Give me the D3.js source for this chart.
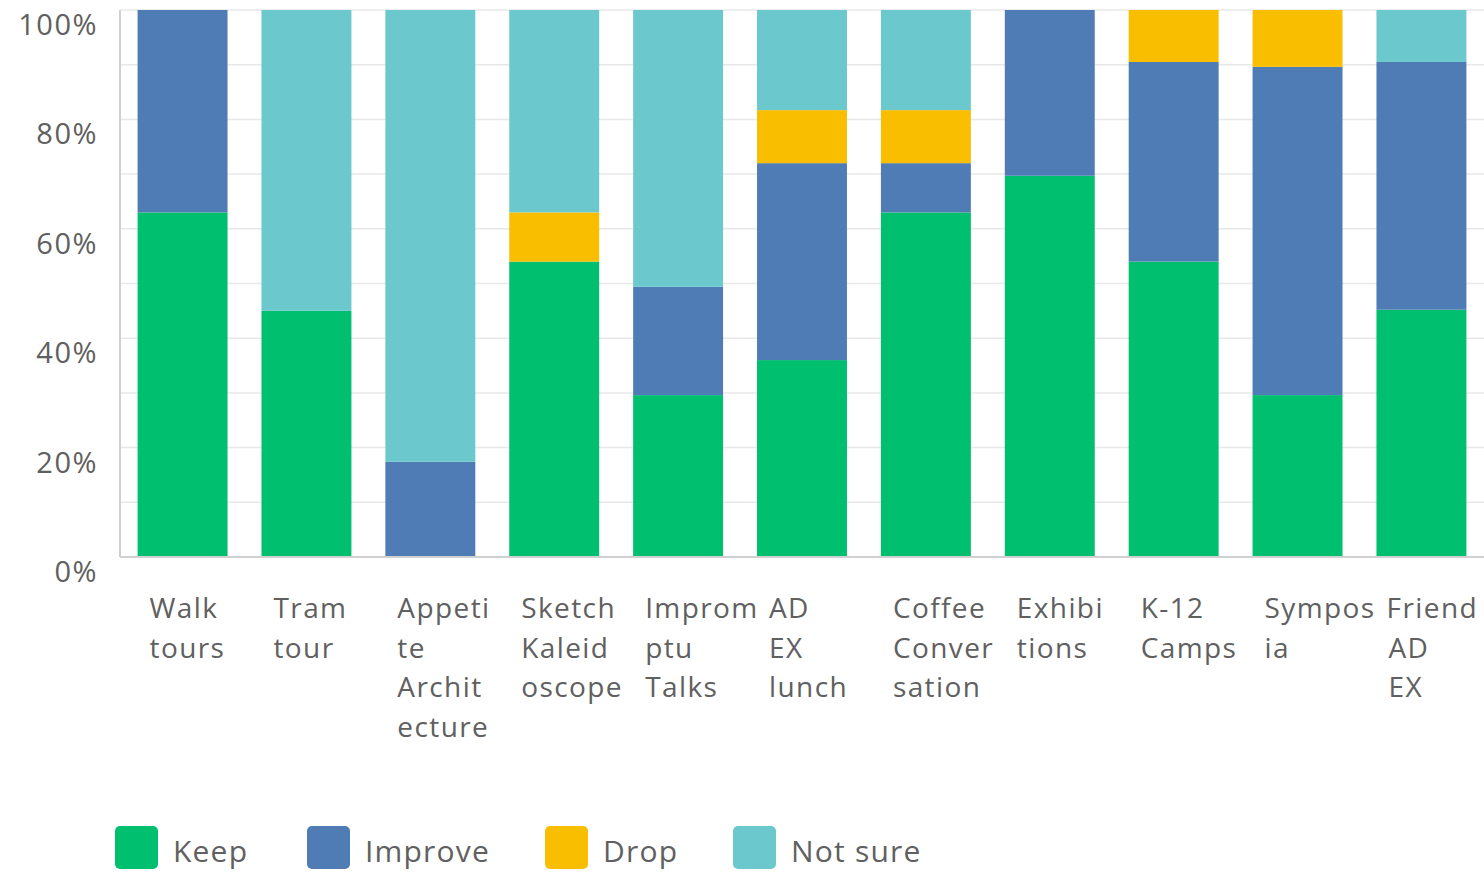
<!DOCTYPE html>
<html>
<head>
<meta charset="utf-8">
<script src="https://cdn.jsdelivr.net/npm/d3@7"></script>
<style>
  html, body { margin: 0; padding: 0; background: #fff; }
  svg { display: block; }
  text { font-family: "Open Sans", "Noto Sans", sans-serif; fill: #606060; }
</style>
</head>
<body>
<svg id="chart" width="1484" height="872"></svg>
<script>
// ---- data ----
const categories = ["Walk tours", "Tram tour", "Appetite Architecture", "Sketch Kaleidoscope",
  "Impromptu Talks", "AD EX lunch", "Coffee Conversation", "Exhibitions", "K-12 Camps", "Symposia", "Friend AD EX"];
const categoryLines = [
  ["Walk", "tours"], ["Tram", "tour"], ["Appeti", "te", "Archit", "ecture"], ["Sketch", "Kaleid", "oscope"],
  ["Improm", "ptu", "Talks"], ["AD", "EX", "lunch"], ["Coffee", "Conver", "sation"], ["Exhibi", "tions"],
  ["K-12", "Camps"], ["Sympos", "ia"], ["Friend", "AD", "EX"]
];
const seriesNames = ["Keep", "Improve", "Drop", "Not sure"];
const keep    = [63.0, 45.0, 0,    54.0, 29.6, 36.0, 63.0, 69.7, 54.0, 29.6, 45.2];
const improve = [37.0, 0,    17.4, 0,    19.8, 36.0, 9.0,  30.3, 36.5, 60.0, 45.3];
const drop    = [0,    0,    0,    9.0,  0,    9.7,  9.7,  0,    9.5,  10.4, 0];
const notSure = [0,    55.0, 82.6, 37.0, 50.6, 18.3, 18.3, 0,    0,    0,    9.5];
const yTicks = [0, 20, 40, 60, 80, 100];
const colors = ["#00BF6F", "#507CB6", "#F9BE00", "#6BC8CD"];

(function () {
  const seriesArrays = [keep, improve, drop, notSure];
  const table = categories.map((c, i) => {
    const row = { category: c };
    seriesNames.forEach((s, j) => row[s] = seriesArrays[j][i]);
    return row;
  });

  const svg = d3.select("#chart");
  const pLeft = 120, pRight = 1484, pTop = 10, pBottom = 557;

  const x = d3.scaleBand().domain(categories).range([pLeft, pRight]).paddingInner(0.274).paddingOuter(0.142);
  const y = d3.scaleLinear().domain([0, 100]).range([pBottom, pTop]);
  const color = d3.scaleOrdinal().domain(seriesNames).range(colors);

  // gridlines every 10%
  svg.append("g").selectAll("line").data(d3.range(10, 101, 10)).join("line")
    .attr("x1", pLeft).attr("x2", pRight)
    .attr("y1", d => y(d)).attr("y2", d => y(d))
    .attr("stroke", "#e8e8e8").attr("stroke-width", 1.5);

  // stacked bars
  const stacked = d3.stack().keys(seriesNames)(table);
  svg.append("g").selectAll("g").data(stacked).join("g")
    .attr("fill", d => color(d.key))
    .selectAll("rect").data(d => d).join("rect")
    .attr("x", d => x(d.data.category))
    .attr("width", x.bandwidth())
    .attr("y", d => y(d[1]))
    .attr("height", d => Math.max(0, y(d[0]) - y(d[1])));

  // axis lines
  svg.append("line").attr("x1", pLeft).attr("x2", pLeft).attr("y1", pTop).attr("y2", pBottom)
    .attr("stroke", "#d0d0d0").attr("stroke-width", 2);
  svg.append("line").attr("x1", pLeft).attr("x2", pRight).attr("y1", pBottom).attr("y2", pBottom)
    .attr("stroke", "#d0d0d0").attr("stroke-width", 2);

  // y axis labels (offset below gridlines)
  const yAxis = d3.axisLeft(y).tickValues(yTicks).tickFormat(d => d + "%").tickSize(0).tickPadding(0);
  const yg = svg.append("g").attr("transform", "translate(98,0)").call(yAxis);
  yg.select(".domain").remove();
  yg.selectAll("text")
    .attr("dy", "0.5em").attr("y", 10)
    .style("font-size", "29px").style("letter-spacing", "1.5px")
    .style("font-family", '"Open Sans", "Noto Sans", sans-serif').attr("fill", "#606060");

  // x category labels, wrapped
  const xg = svg.append("g");
  categories.forEach((c, i) => {
    const x0 = x(c) + 12;
    categoryLines[i].forEach((line, k) => {
      const t = xg.append("text")
        .attr("x", x0).attr("y", 618 + k * 39.7)
        .style("font-size", "28px").style("letter-spacing", "1.4px")
        .text(line);
      const w = t.node().getComputedTextLength();
      if (x0 + w > 1478) t.attr("x", 1478 - w);
    });
  });

  // legend
  const legendX = [115, 307, 545, 733];
  const lg = svg.append("g").selectAll("g").data(seriesNames).join("g")
    .attr("transform", (d, i) => `translate(${legendX[i]},826)`);
  lg.append("rect").attr("width", 43).attr("height", 43).attr("rx", 5)
    .attr("fill", d => color(d));
  lg.append("text").attr("x", 58).attr("y", 36)
    .style("font-size", "30px").style("letter-spacing", "1.2px")
    .text(d => d);
})();
</script>
</body>
</html>
